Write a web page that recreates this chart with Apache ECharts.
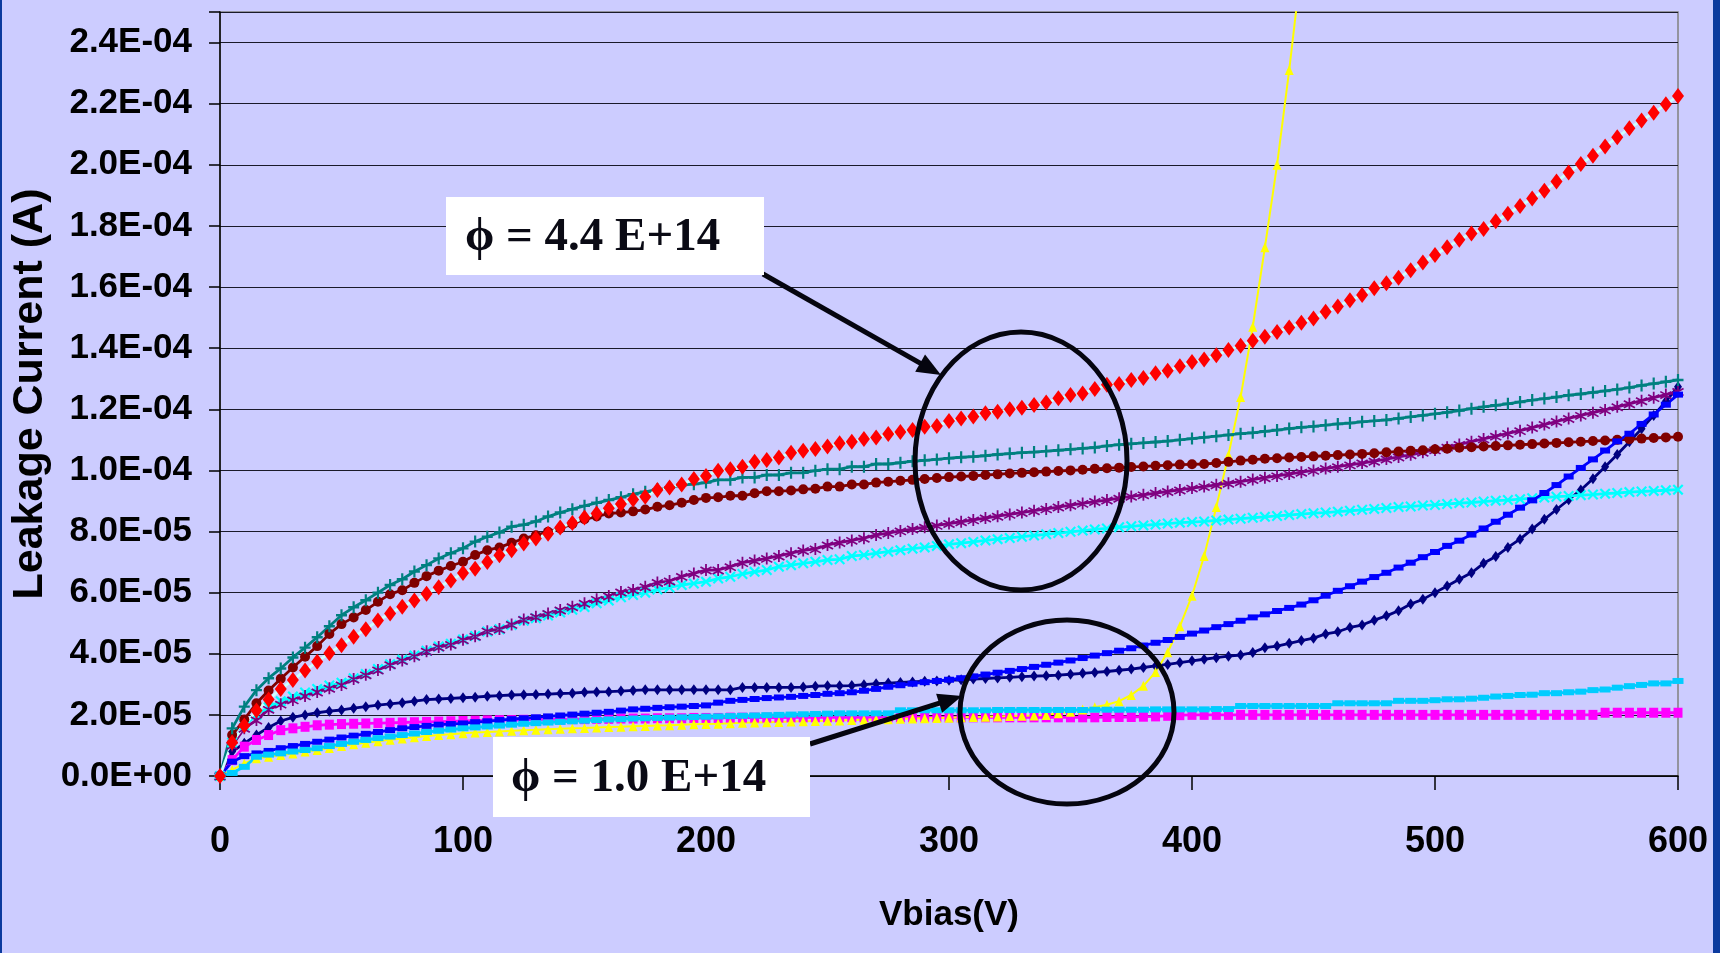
<!DOCTYPE html>
<html>
<head>
<meta charset="utf-8">
<script src="https://cdn.jsdelivr.net/npm/echarts@6/dist/echarts.min.js"></script>
<style>
  html, body { margin: 0; padding: 0; background: #CCCCFF; }
  #chart { position: absolute; left: 0; top: 0; width: 1720px; height: 953px; }
  .edge { position: absolute; top: 0; height: 953px; background: #0b3a9e; z-index: 5; }
</style>
</head>
<body>
<div id="chart"></div>
<div class="edge" style="left:0;width:2px"></div>
<div class="edge" style="left:1713px;width:7px"></div>
<script>
// ---- Data (current in microamperes, bias in volts) ----
const volts = [0,5,10,15,20,25,30,35,40,45,50,55,60,65,70,75,80,85,90,95,
  100,105,110,115,120,125,130,135,140,145,150,155,160,165,170,175,180,185,190,195,
  200,205,210,215,220,225,230,235,240,245,250,255,260,265,270,275,280,285,290,295,
  300,305,310,315,320,325,330,335,340,345,350,355,360,365,370,375,380,385,390,395,
  400,405,410,415,420,425,430,435,440,445,450,455,460,465,470,475,480,485,490,495,
  500,505,510,515,520,525,530,535,540,545,550,555,560,565,570,575,580,585,590,595,600];

const navy = [0,8,10.7,13.4,15.9,18,19.2,20,20.7,21.2,
  21.6,22.2,22.7,23.2,23.6,24,24.5,25,25.2,25.4,
  25.6,25.8,26.1,26.3,26.5,26.6,26.7,26.8,27,27.1,
  27.4,27.5,27.6,27.8,28,28.2,28.2,28.2,28.2,28.2,
  28.2,28.2,28.2,29,29,29,29,29,29.1,29.4,
  29.5,29.5,29.6,29.9,30.2,30.4,30.6,30.8,31,31.1,
  31.3,31.5,31.7,31.9,32.1,32.3,32.5,32.7,32.8,33,
  33.3,33.6,33.9,34.2,34.6,35,35.5,36,36.5,37.1,
  37.7,38.2,38.7,39.2,39.6,40.4,42,42.5,43.4,44.3,
  45.1,46.5,47.2,48.6,49.4,51,52.4,54.1,56.3,57.8,
  60,62.2,64.4,66.5,69.6,71.8,74.8,77.5,80.8,84,
  87.2,90.4,93.6,97.3,101.2,105.2,109.4,113.6,118,122.6,127.4];

const magenta = [0,5.2,9.6,11.8,13.4,15,15.6,16.1,16.6,16.8,
  17,17.1,17.2,17.3,17.4,17.5,17.6,17.7,17.8,17.9,
  18,18.1,18.2,18.3,18.3,18.4,18.4,18.5,18.5,18.6,
  18.6,18.7,18.7,18.8,18.8,18.8,18.9,18.9,18.9,19,
  19,19,19.1,19.1,19.1,19.1,19.1,19.2,19.2,19.2,
  19.2,19.2,19.2,19.2,19.2,19.2,19.2,19.2,19.2,19.2,
  19.2,19.2,19.2,19.2,19.2,19.2,19.2,19.2,19.2,19.2,
  19.2,19.2,19.2,19.3,19.3,19.3,19.4,19.5,19.7,19.9,
  20,20,20,20,20,20,20,20,20,20,
  20,20,20,20,20,20,20,20,20,20,
  20,20,20,20,20,20,20,20,20,20,
  20,20,20,20,20.7,20.7,20.7,20.7,20.7,20.7,20.7];

const yellow = [0,2,4.1,5.8,6.3,6.9,7.4,8,8.5,9.2,
  9.8,10.4,10.9,11.4,11.9,12.3,12.7,13.1,13.4,13.7,
  14,14.2,14.4,14.6,14.8,15,15.1,15.3,15.5,15.6,
  15.7,15.9,16,16.1,16.3,16.4,16.5,16.6,16.8,16.9,
  17,17.1,17.3,17.4,17.5,17.6,17.7,17.8,17.9,18,
  18.1,18.2,18.3,18.4,18.5,18.6,18.7,18.8,18.9,19,
  19.1,19.2,19.3,19.4,19.5,19.6,19.7,19.8,20,20.5,
  21,21.8,22.5,23.3,24.5,26.5,29.5,34,40.5,49,
  59,72,88,105,124,147,173,200,231,265];

const cyan = [0,11,16.5,20,22.5,24.5,26,27.3,28.5,29.6,
  30.5,32,33.4,35,36.6,38,39.4,41,42.4,43.3,
  44.7,45.8,47.3,48,49.4,50.8,51.6,52.5,53.5,54.4,
  55.3,56.5,57.4,58.5,59.2,60,61,61.7,62.5,63,
  63.6,64.6,65.2,66.1,66.8,67.4,68.5,69,69.6,70.1,
  70.7,70.9,72,72.3,72.9,73.4,73.9,74.4,74.8,75.3,
  75.8,76.2,76.6,77.1,77.5,77.9,78.3,78.7,79.1,79.5,
  79.9,80.3,80.7,81,81.4,81.7,82,82.3,82.6,82.9,
  83.1,83.3,83.6,83.9,84.2,84.5,84.8,85.1,85.4,85.7,
  86,86.2,86.5,86.8,87.1,87.4,87.7,88,88.2,88.5,
  88.7,89,89.3,89.5,89.8,90.1,90.3,90.6,90.9,91.1,
  91.4,91.6,91.9,92.1,92.4,92.6,92.9,93.1,93.3,93.5,93.7];

const purple = [0,10,15.6,18.3,21.8,23.5,24.9,26.2,27.5,28.7,
  29.8,31.7,33.1,34.7,36.4,37.8,39.2,40.8,42.2,43,
  44.6,45.7,47.4,48.1,49.6,51.2,52.1,53.2,54.3,55.4,
  56.5,57.8,58.9,60.2,60.9,61.9,63.3,63.8,65.3,66.3,
  67.4,67.4,68.5,69.8,70.5,71.2,72,72.9,73.8,74.3,
  75.6,76.4,77.1,77.8,78.9,79.5,80.2,80.8,81.4,82,
  82.6,83.2,83.8,84.4,85,85.6,86.2,86.8,87.4,88,
  88.6,89.2,89.8,90.3,90.9,91.5,92,92.6,93.1,93.6,
  94.2,94.7,95.3,95.8,96.3,97,97.6,98.2,98.8,99.4,
  100,100.6,101.2,101.8,102.4,103,103.7,104.4,105.1,105.9,
  106.7,107.6,108.5,109.4,110.3,111.2,112.1,113,114,115,
  116,117,118,118.9,119.8,120.8,121.8,122.8,123.8,124.8,125.8];

const maroon = [0,13.4,18.5,23.8,28,31.8,35.5,39,42.5,46.5,
  49.7,51.9,54.3,57,59.5,60.8,63.2,65.4,67.2,68.7,
  70.1,72.3,73.9,74.8,76.3,77.7,78.8,79.9,81,82.5,
  84,84.9,85.9,86.2,86.6,87.2,88.1,88.6,89.4,90.3,
  91,91.2,91.7,91.7,92.5,93.2,93.2,93.4,93.8,94,
  94.7,94.7,95.4,95.4,96,96.3,96.6,96.9,97.2,97.5,
  97.8,98,98.2,98.5,98.7,99,99.2,99.4,99.6,99.8,
  100,100.2,100.5,100.7,100.9,101.1,101.3,101.5,101.7,101.9,
  102,102.1,102.4,102.8,103.2,103.5,103.8,104,104.2,104.4,
  104.6,104.8,105,105.2,105.4,105.6,105.9,106.2,106.4,106.6,
  106.9,107.1,107.4,107.6,107.8,108,108.2,108.4,108.6,108.8,
  109,109.2,109.4,109.6,109.8,110,110.2,110.4,110.6,110.8,111];

const teal = [0,15.6,22.7,28.1,32,35.2,38.8,42,45.4,49,
  52.6,55.2,57.5,60,62.5,64.4,66.9,69,71.2,72.9,
  74.5,76.7,78.3,79.7,81.6,82.2,83.3,84.9,86.2,87.3,
  88.4,89.4,90.3,91.2,92.2,93,93.8,94.4,95.2,95.5,
  96,96.9,96.9,97.7,97.7,98.5,98.5,99.2,99.2,99.9,
  100.4,100.4,101.2,101.2,102.1,102.1,102.5,103,103.3,103.6,
  104,104.3,104.5,104.8,105.2,105.5,105.8,106,106.3,106.6,
  106.9,107.2,107.5,108,108.4,108.7,109,109.3,109.6,110,
  110.4,110.8,111.2,111.6,112,112.3,112.8,113.2,113.7,114.1,
  114.4,114.8,115.2,115.5,115.9,116.2,116.5,117,117.5,118,
  118.5,119,119.6,120.2,120.8,121.3,121.8,122.4,123,123.5,
  124,124.6,125,125.5,126,126.5,127.1,127.8,128.4,129,129.6];

const blue = [0,4.7,6.5,7.4,8.2,9.1,9.8,10.5,11.2,11.9,
  12.6,13.2,13.8,14.4,15,15.6,16,16.4,16.8,17,
  17.2,17.6,17.9,18.3,18.6,18.9,19.2,19.5,19.8,20.1,
  20.4,20.7,21,21.4,21.8,22,22.3,22.5,22.7,22.9,
  23.1,24,24.6,24.9,25.2,25.5,25.7,25.9,26.2,26.5,
  26.9,27.1,27.4,27.9,28.5,29.2,29.7,30.2,30.7,31.1,
  31.5,32,32.6,33.2,33.8,34.4,35,35.7,36.4,37.1,
  37.8,38.6,39.4,40.2,41,41.8,42.7,43.6,44.5,45.5,
  46.6,47.6,48.7,49.7,50.8,51.9,52.9,54,55,56.1,
  57.5,59,60.6,62.1,63.6,65.1,66.5,68.2,69.8,71.6,
  73.3,75.3,77,79,81,83.2,85.5,87.8,90.2,92.6,
  95.2,98,100.8,103.6,106.5,109.5,112,115.2,118.3,121.5,124.8];

const skyblue = [0,1,3,6.3,7,7.4,8,8.5,9.1,9.8,
  10.5,11.2,11.8,12.4,12.9,13.4,13.9,14.4,14.8,15.2,
  15.6,15.9,16.2,16.5,16.8,17.1,17.3,17.5,17.7,17.9,
  18.1,18.3,18.5,18.6,18.8,18.9,19,19.1,19.2,19.3,
  19.4,19.5,19.6,19.7,19.8,19.9,20,20.1,20.2,20.3,
  20.4,20.5,20.5,20.5,20.5,20.5,21.5,21.5,21.5,21.5,
  21.5,21.5,21.5,21.5,21.6,21.6,21.6,21.6,21.6,21.6,
  21.6,21.6,21.7,21.7,21.7,21.7,21.7,21.8,21.8,21.8,
  21.8,21.8,21.9,21.9,22.9,22.9,22.9,22.9,22.9,22.9,
  22.9,22.9,23.8,23.8,23.8,23.8,23.8,24.6,24.6,24.6,
  24.8,25.1,25.1,25.3,25.6,26,26.2,26.5,26.6,27.1,
  27.1,27.4,27.6,28.1,28.3,28.9,29.4,29.8,30.3,30.3,31.1];

const red = [0,11,16.5,21.4,25,28.5,31.4,34.5,37.4,40.2,
  42.8,45.6,48,50.9,53.2,55.4,57.4,59.6,61.8,64,
  66.4,67.8,70,72.2,73.9,76.1,77.7,79.3,81.3,82.8,
  84.6,85.9,87.6,89,90.5,91.4,93.6,94.4,95.4,97.2,
  98.2,99.9,100.4,101.2,102.8,103.4,104.2,105.8,106.4,107,
  107.8,108.9,109.4,110.3,110.8,111.9,112.6,113.2,114.3,114.5,
  116.2,117,117.6,118.7,119.2,120,120.5,121.4,122.2,123.6,
  124.7,125.2,126.6,128,128.3,129.6,130.2,131.8,132.6,134.1,
  135.5,136.3,137.7,139.4,140.8,142.4,143.7,145.3,146.8,148.3,
  149.7,151.9,153.6,155.7,157.4,159.6,161.2,163,165.5,168,
  170.5,173,175.5,177.5,179,181.5,184,186.5,189,191.5,
  194.5,197.5,200.3,203,206,209,212,214.5,217,219.8,222.5];

const xTickLabels = ['0','100','200','300','400','500','600'];
const yTickLabels = ['0.0E+00','2.0E-05','4.0E-05','6.0E-05','8.0E-05','1.0E-04','1.2E-04',
  '1.4E-04','1.6E-04','1.8E-04','2.0E-04','2.2E-04','2.4E-04'];
const xTitle = 'Vbias(V)';
const yTitle = 'Leakage Current (A)';
const notes = ['\u03D5 = 4.4 E+14', '\u03D5 = 1.0 E+14'];

// ---- Marker shapes ----
const PLUS = 'path://M4,0h2v4h4v2h-4v4h-2v-4h-4v-2h4z';
const CROSS = 'path://M1.4,0L5,3.6L8.6,0L10,1.4L6.4,5L10,8.6L8.6,10L5,6.4L1.4,10L0,8.6L3.6,5L0,1.4Z';
const STAR = 'path://M4.3,0h1.4v10h-1.4zM1,1.9L5,4.2L9,1.9L9.7,3.1L5.7,5.4L9.7,7.7L9,8.9L5,6.6L1,8.9L0.3,7.7L4.3,5.4L0.3,3.1Z';

function mk(name, arr, lineColor, markColor, symbol, size, width) {
  return {
    name: name, type: 'line',
    data: arr.map((v, i) => [volts[i], v]),
    symbol: symbol, symbolSize: size, showSymbol: true, showAllSymbol: true,
    lineStyle: { color: lineColor, width: width || 2.8 },
    itemStyle: { color: markColor, borderWidth: 0 },
    clip: true, smooth: false
  };
}

const series = [
  mk('navy', navy, '#000080', '#000080', 'diamond', [8, 11]),
  mk('magenta', magenta, '#FF00FF', '#FF00FF', 'rect', [9, 10]),
  mk('yellow', yellow, '#FFFF00', '#FFFF00', 'triangle', [9, 10], 2),
  mk('cyan', cyan, '#00FFFF', '#00FFFF', CROSS, [11, 11]),
  mk('purple', purple, '#800080', '#800080', STAR, [12, 12]),
  mk('maroon', maroon, '#800000', '#800000', 'circle', 10),
  mk('teal', teal, '#008080', '#008080', PLUS, [11, 12]),
  mk('blue', blue, '#0000FF', '#0000FF', 'rect', [10, 6]),
  mk('skyblue', skyblue, '#00CCFF', '#00CCFF', 'rect', [11, 6]),
  mk('red', red, '#CCFFFF', '#FF0000', 'diamond', [12, 16])
];

// ---- Annotation layout ----
const A = {
  box1: { x: 446, y: 197, w: 318, h: 78, tx: 465 },
  box2: { x: 493, y: 737, w: 317, h: 80, tx: 511 },
  ell1: { cx: 1021, cy: 461, rx: 106, ry: 129 },
  ell2: { cx: 1067, cy: 712, rx: 107, ry: 92 },
  arr1: { x1: 763, y1: 274, x2: 941, y2: 375 },
  arr2: { x1: 810, y1: 744, x2: 962, y2: 696 }
};
function arrow(a) {
  const dx = a.x2 - a.x1, dy = a.y2 - a.y1, L = Math.hypot(dx, dy);
  const ux = dx / L, uy = dy / L, hl = 24, hw = 10;
  const bx = a.x2 - ux * hl, by = a.y2 - uy * hl;
  return [
    { type: 'line', z: 100, shape: { x1: a.x1, y1: a.y1, x2: bx + ux * 2, y2: by + uy * 2 },
      style: { stroke: '#05050f', lineWidth: 5 } },
    { type: 'polygon', z: 100, shape: { points: [[a.x2, a.y2], [bx - uy * hw, by + ux * hw], [bx + uy * hw, by - ux * hw]] },
      style: { fill: '#05050f' } }
  ];
}
function box(b, text) {
  return [
    { type: 'rect', z: 100, shape: { x: b.x, y: b.y, width: b.w, height: b.h }, style: { fill: '#ffffff' } },
    { type: 'text', z: 101, x: b.tx, y: b.y + b.h / 2 + 2,
      style: { text: text, fill: '#0a0a14', font: 'bold 47px "Liberation Serif", "Times New Roman", serif',
        verticalAlign: 'middle', align: 'left' } }
  ];
}
function ell(e) {
  return { type: 'ellipse', z: 100, shape: { cx: e.cx, cy: e.cy, rx: e.rx, ry: e.ry },
    style: { fill: null, stroke: '#05050f', lineWidth: 5 } };
}

const SANS = '"Liberation Sans", Arial, sans-serif';

const chart = echarts.init(document.getElementById('chart'), null, { renderer: 'canvas' });
chart.setOption({
  backgroundColor: '#CCCCFF',
  animation: false,
  grid: { left: 220, right: 42, top: 12, bottom: 177, containLabel: false, outerBoundsMode: 'none',
    show: true, borderColor: '#808080', borderWidth: 1.5, backgroundColor: 'transparent' },
  xAxis: {
    type: 'value', min: 0, max: 600, interval: 100,
    name: xTitle, nameLocation: 'middle', nameGap: 122, nameMoveOverlap: false,
    nameTextStyle: { fontFamily: SANS, fontWeight: 'bold', fontSize: 35, color: '#000' },
    axisLine: { show: true, lineStyle: { color: '#000', width: 1.5 } },
    axisTick: { show: true, inside: false, length: 14, lineStyle: { color: '#000', width: 1.5 } },
    axisLabel: { margin: 48, fontFamily: SANS, fontWeight: 'bold', fontSize: 36, color: '#000',
      formatter: v => xTickLabels[Math.round(v / 100)] || '' },
    splitLine: { show: false }
  },
  yAxis: {
    type: 'value', min: 0, max: 250, interval: 20,
    name: yTitle, nameLocation: 'middle', nameGap: 168, nameRotate: 90, nameMoveOverlap: false,
    nameTextStyle: { fontFamily: SANS, fontWeight: 'bold', fontSize: 43, color: '#000' },
    axisLine: { show: true, lineStyle: { color: '#000', width: 1.5 } },
    axisTick: { show: true, inside: false, length: 11, lineStyle: { color: '#000', width: 1.5 } },
    axisLabel: { margin: 28, fontFamily: SANS, fontWeight: 'bold', fontSize: 35, color: '#000',
      formatter: v => (v % 20 === 0 && yTickLabels[v / 20]) ? yTickLabels[v / 20] : '' },
    splitLine: { show: true, lineStyle: { color: '#1a1a2a', width: 1.2 } }
  },
  series: series,
  graphic: [].concat(
    [ell(A.ell1), ell(A.ell2)],
    arrow(A.arr1), arrow(A.arr2),
    box(A.box1, notes[0]), box(A.box2, notes[1])
  )
});
</script>
</body>
</html>
